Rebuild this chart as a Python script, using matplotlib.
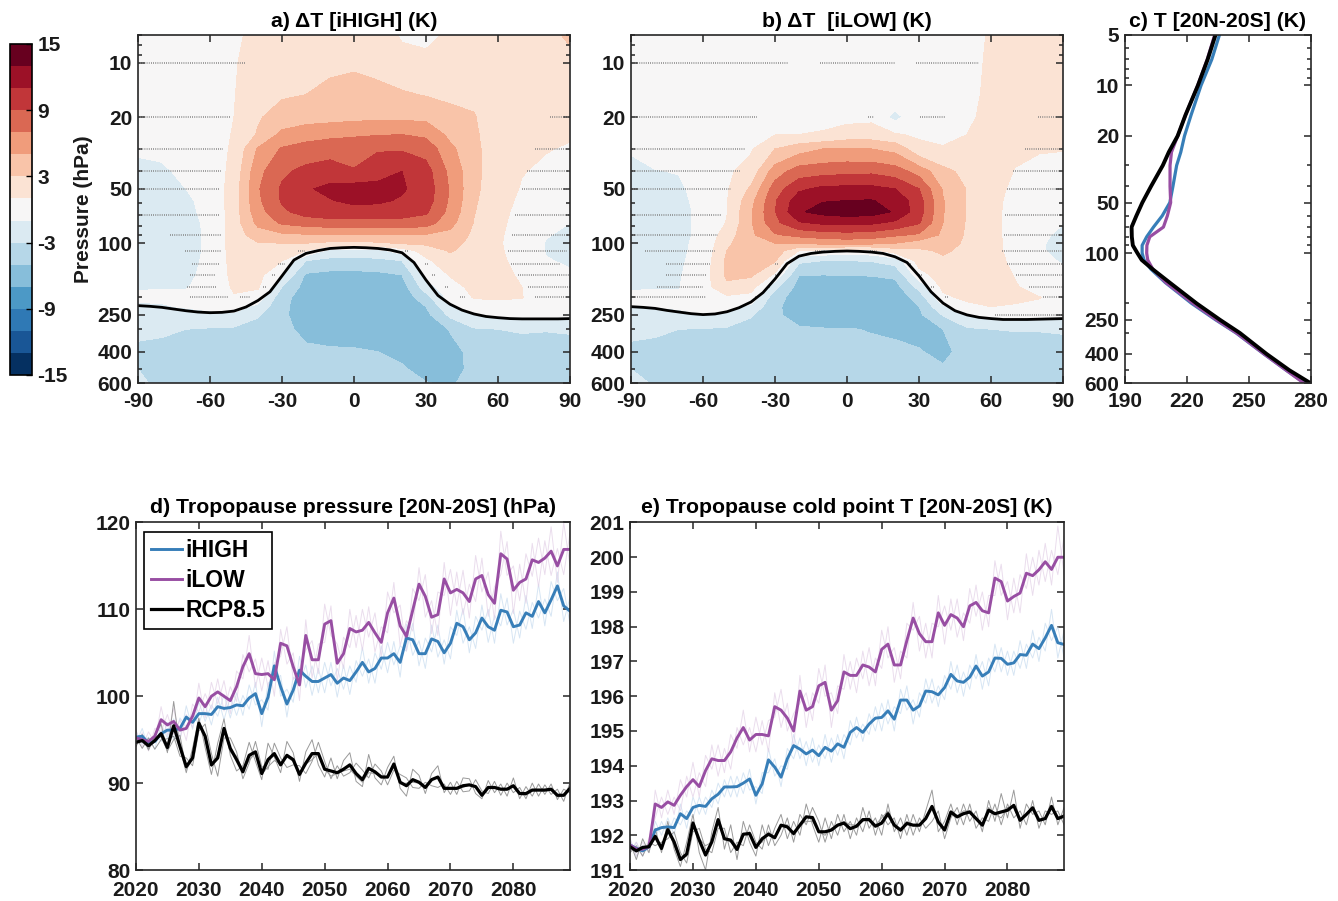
import numpy as np
import matplotlib
matplotlib.use("Agg")
import matplotlib.pyplot as plt
from matplotlib.colors import ListedColormap
from matplotlib.ticker import LogLocator, NullFormatter

plt.rcParams['font.family'] = ['Liberation Sans', 'DejaVu Sans']
plt.rcParams['font.weight'] = 'bold'
plt.rcParams['axes.titleweight'] = 'bold'
plt.rcParams['axes.labelweight'] = 'bold'
plt.rcParams['axes.unicode_minus'] = False

# ---------------- zonal mean temperature change (panels a, b) ----------------
LAT = np.arange(-90, 91, 10)
P_LEV = [7, 10, 15, 20, 25, 30, 40, 50, 58, 67, 77, 90, 100, 110, 125, 150,
         175, 200, 225, 250, 300, 400, 500, 600]

# one profile per latitude (-90 ... 90), values at P_LEV
dT_ihigh_cols = [
    [0, 0, 0, -0.3, -0.6, -0.85, -1.3, -1.5, -1.6, -1.6, -1.6, -1.6, -1.5, -1.5, -1.4, -1.3, -1.1, -0.8, -1.2, -1.8, -2.6, -3.4, -3.0, -2.5],
    [0, 0, 0, -0.2, -0.5, -0.75, -1.2, -1.4, -1.5, -1.5, -1.5, -1.5, -1.4, -1.4, -1.3, -1.2, -1.05, -0.8, -1.1, -1.8, -2.7, -3.6, -3.8, -3.6],
    [0, 0, 0, 0, -0.1, -0.3, -0.7, -1.0, -1.2, -1.25, -1.3, -1.3, -1.3, -1.3, -1.2, -1.15, -1.05, -0.8, -0.9, -1.5, -3.0, -3.8, -3.9, -3.7],
    [0.2, 0.2, 0.2, 0.1, 0, 0, -0.2, -0.4, -0.6, -0.7, -0.8, -0.85, -0.85, -0.85, -0.85, -0.8, -0.7, -0.6, -0.7, -1.3, -3.2, -4.0, -4.0, -3.8],
    [0.6, 0.8, 0.9, 1.0, 1.15, 1.3, 1.6, 1.9, 2.0, 2.0, 2.0, 2.0, 2.0, 1.9, 1.8, 1.6, 1.3, 0.8, 0.0, -1.5, -3.3, -4.2, -4.2, -4.0],
    [1.6, 2.0, 2.4, 2.8, 3.2, 5.2, 6.4, 6.8, 6.6, 6.2, 5.5, 4.0, 2.9, 2.5, 2.0, 1.6, 1.2, 0.2, -1.6, -2.8, -3.8, -4.3, -4.4, -4.3],
    [2.0, 2.3, 2.8, 3.8, 5.5, 7.2, 8.6, 9.3, 9.2, 8.6, 7.3, 4.6, 3.0, 2.0, 1.05, -0.9, -3.0, -4.4, -4.6, -4.7, -4.6, -4.3, -4.2, -4.2],
    [2.2, 2.6, 3.0, 4.2, 6.2, 7.8, 9.6, 10.8, 10.7, 9.8, 7.9, 4.8, 3.0, 1.0, -3.0, -5.3, -5.8, -5.9, -5.9, -5.8, -5.4, -4.7, -4.4, -4.3],
    [2.4, 2.7, 3.4, 4.3, 6.6, 8.0, 10.2, 11.4, 10.9, 10.2, 8.2, 4.8, 2.6, -1.6, -3.6, -5.6, -6.1, -6.3, -6.3, -6.1, -5.6, -4.8, -4.5, -4.4],
    [2.5, 2.8, 3.6, 4.5, 6.8, 8.0, 9.2, 12.0, 11.4, 10.3, 8.2, 4.9, 2.6, -1.8, -3.7, -5.6, -6.2, -6.4, -6.4, -6.3, -5.8, -4.8, -4.5, -4.4],
    [2.3, 2.7, 3.3, 4.6, 6.9, 8.8, 10.3, 11.6, 11.3, 10.2, 8.2, 4.8, 2.7, -1.5, -3.5, -5.5, -6.2, -6.5, -6.6, -6.5, -6.2, -5.0, -4.6, -4.5],
    [0.7, 2.0, 3.2, 4.6, 7.0, 8.8, 11.0, 11.2, 10.8, 10.0, 8.2, 5.0, 3.2, 0.0, -3.0, -5.0, -5.9, -6.3, -6.5, -6.6, -6.4, -5.4, -4.8, -4.6],
    [0.5, 1.6, 2.9, 4.5, 6.6, 8.3, 9.8, 10.2, 10.0, 9.3, 8.0, 4.8, 3.4, 1.8, 0.6, -0.4, -2.0, -3.8, -5.0, -5.6, -6.2, -6.2, -5.6, -4.9],
    [1.3, 1.9, 2.7, 3.5, 4.5, 5.5, 6.5, 6.8, 6.7, 6.4, 5.7, 4.4, 3.8, 3.2, 2.3, 1.1, 0.4, -0.3, -1.3, -2.6, -4.9, -5.6, -5.6, -5.2],
    [2.0, 2.2, 2.7, 3.1, 3.3, 3.5, 3.6, 3.5, 3.3, 3.1, 2.9, 2.6, 2.3, 2.1, 1.9, 1.6, 1.4, 1.1, 0.2, -1.1, -3.2, -4.5, -4.6, -4.4],
    [2.0, 2.0, 2.0, 2.0, 1.9, 1.8, 1.7, 1.6, 1.5, 1.4, 1.3, 1.2, 1.15, 1.2, 1.3, 1.4, 1.4, 1.2, 0.4, -0.6, -3.0, -4.2, -4.3, -4.2],
    [2.0, 2.0, 1.9, 1.7, 1.5, 1.3, 1.05, 0.9, 0.75, 0.6, 0.5, 0.4, 0.35, 0.4, 0.5, 0.8, 1.0, 1.05, 0.5, -0.4, -2.8, -4.0, -4.1, -4.0],
    [2.1, 2.0, 1.7, 1.4, 1.2, 1.05, 0.8, 0.5, 0.25, -0.1, -0.5, -0.9, -1.1, -1.1, -0.9, -0.6, -0.2, 0.0, 0.0, -0.7, -2.9, -3.9, -4.0, -3.9],
    [3.5, 2.1, 1.6, 1.3, 1.1, 0.9, 0.5, 0.1, -0.2, -0.6, -1.0, -1.3, -1.5, -1.5, -1.2, -0.8, -0.4, -0.1, 0.0, -0.6, -2.8, -3.8, -3.9, -3.8],
]

dT_ilow_cols = [
    [0, 0, 0, -0.3, -0.6, -0.9, -1.3, -1.5, -1.6, -1.6, -1.6, -1.6, -1.5, -1.5, -1.4, -1.3, -1.1, -0.8, -1.0, -1.7, -2.6, -3.4, -3.0, -2.0],
    [0, 0, 0, -0.2, -0.4, -0.6, -1.05, -1.3, -1.4, -1.45, -1.45, -1.45, -1.4, -1.4, -1.3, -1.2, -1.05, -0.8, -0.95, -1.7, -2.7, -3.6, -3.7, -3.3],
    [0, 0, 0, 0, -0.2, -0.5, -0.95, -1.2, -1.3, -1.35, -1.35, -1.35, -1.3, -1.3, -1.25, -1.15, -1.05, -0.8, -0.85, -1.3, -3.0, -3.8, -3.9, -3.7],
    [0.1, 0.1, 0.1, 0, 0, -0.1, -0.3, -0.5, -0.6, -0.7, -0.7, -0.7, -0.6, -0.5, -0.3, 0.0, 0.1, -0.2, -0.5, -1.05, -3.1, -4.0, -4.0, -3.8],
    [0.1, 0.1, 0.2, 0.3, 0.4, 0.5, 0.65, 0.8, 0.9, 0.95, 1.1, 2.0, 2.6, 3.0, 3.4, 3.4, 2.5, 0.6, -0.3, -1.4, -3.3, -4.2, -4.2, -4.0],
    [0.1, 0.1, 0.2, 0.4, 0.6, 0.8, 1.8, 3.3, 4.3, 4.8, 4.8, 4.6, 4.4, 4.2, 3.9, 3.3, 1.8, 0.3, -1.5, -2.8, -3.9, -4.4, -4.4, -4.3],
    [0.2, 0.3, 0.5, 0.7, 0.95, 3.0, 6.0, 8.0, 8.8, 8.9, 8.5, 6.8, 5.0, 4.2, 3.2, 0.6, -2.5, -4.2, -4.6, -4.7, -4.6, -4.3, -4.2, -4.2],
    [0.2, 0.3, 0.5, 0.7, 1.0, 4.2, 8.0, 10.6, 12.2, 12.8, 10.8, 7.5, 5.3, 1.0, -2.6, -4.95, -5.8, -6.0, -6.0, -5.7, -4.8, -4.3, -4.2, -4.1],
    [0.3, 0.4, 0.6, 0.7, 1.1, 5.0, 8.3, 11.5, 12.9, 13.6, 11.4, 8.0, 5.6, 0.5, -3.0, -5.0, -6.0, -6.3, -6.3, -6.0, -4.9, -4.4, -4.2, -4.1],
    [0.3, 0.4, 0.5, 0.5, 1.8, 5.2, 8.5, 11.6, 13.0, 14.0, 11.5, 8.2, 5.8, 0.2, -3.0, -4.95, -6.1, -6.4, -6.4, -6.1, -4.9, -4.4, -4.2, -4.1],
    [0.3, 0.4, 0.55, 0.6, 1.9, 5.0, 8.6, 11.6, 13.1, 13.8, 11.4, 8.0, 5.6, 0.4, -2.9, -4.9, -6.0, -6.3, -6.4, -6.2, -5.1, -4.5, -4.3, -4.2],
    [0.3, 0.3, 0.2, -1.6, 1.2, 4.4, 8.0, 11.0, 12.4, 12.8, 10.6, 7.3, 5.0, 2.0, -2.2, -4.6, -5.8, -6.2, -6.4, -6.4, -5.3, -4.6, -4.3, -4.2],
    [0.3, 0.3, 0.3, 0.4, 0.7, 1.6, 6.2, 9.0, 9.8, 9.9, 9.2, 6.7, 4.0, 2.6, 1.8, 0.2, -2.4, -4.2, -5.0, -5.4, -5.4, -4.9, -4.3, -4.2],
    [0.3, 0.3, 0.3, 0.4, 0.7, 1.1, 3.6, 4.8, 5.1, 5.1, 5.0, 4.6, 4.0, 3.3, 2.6, 2.0, 1.4, 0.6, -1.4, -2.9, -5.0, -5.4, -4.8, -4.4],
    [0.3, 0.4, 0.5, 0.7, 1.0, 1.5, 2.4, 2.9, 2.9, 2.9, 2.8, 2.7, 2.6, 2.5, 2.4, 2.1, 1.8, 1.4, 0.5, -1.0, -3.3, -4.4, -4.4, -4.2],
    [1.2, 1.3, 1.4, 1.5, 1.6, 1.6, 1.6, 1.5, 1.4, 1.4, 1.4, 1.4, 1.4, 1.4, 1.4, 1.5, 1.6, 1.5, 1.0, -0.3, -3.0, -4.2, -4.3, -4.2],
    [1.5, 1.5, 1.5, 1.4, 1.3, 1.2, 0.95, 0.7, 0.6, 0.5, 0.5, 0.5, 0.55, 0.6, 0.75, 0.95, 1.1, 1.2, 0.9, -0.2, -2.9, -4.0, -4.1, -4.0],
    [1.6, 1.5, 1.4, 1.3, 1.2, 1.05, 0.8, 0.5, 0.3, 0.0, -0.4, -0.7, -0.8, -0.8, -0.6, -0.2, 0.5, 1.05, 0.7, -0.3, -2.9, -3.9, -4.0, -3.9],
    [1.6, 1.5, 1.4, 1.25, 1.15, 1.03, 0.7, 0.2, -0.2, -0.6, -0.95, -1.3, -1.5, -1.5, -1.15, -0.6, 0.0, 0.6, 0.4, -0.4, -2.8, -3.8, -3.9, -3.8],
]

# climatological tropopause (black line), every 5 degrees
TP_LAT = np.arange(-90, 91, 5)
tp_ihigh = [222, 224, 227, 232, 237, 241, 243, 242, 238, 226, 208, 186, 152, 124, 114, 110, 107, 106, 105.5,
            106, 107, 109, 113, 128, 160, 195, 218, 235, 247, 255, 259, 262, 263, 263, 263, 263, 262]
tp_ilow = [225, 227, 230, 236, 241, 246, 249, 247, 240, 228, 212, 188, 158, 130, 118, 114, 112, 111, 110.5,
           111, 112, 114, 119, 128, 152, 186, 215, 237, 250, 258, 262, 265, 265, 265, 264, 263, 262]

# non-significant stippling rows: (pressure, lat start, lat end)
stip_ihigh = [
    (10, -90, -45),
    (20, -90, -51.8), (20, 81.7, 90),
    (30, -90, -54.6), (30, 75.4, 90),
    (40, -90, -55.5), (40, 72, 90),
    (50, -90, -56.4), (50, 69.9, 90),
    (70, -90, -56.4), (70, 67, 90),
    (90, -76.8, -55.5), (90, 65.7, 90),
    (110, -70.5, -55.5), (110, -23.3, -20.5), (110, 21.2, 22.6), (110, 64.3, 88.6),
    (130, -67.5, -56.4), (130, -31.6, -28.8), (130, 29.5, 31), (130, 65.4, 85.8),
    (150, -68.5, -57.3), (150, -34, -32.6), (150, 32.5, 33.9), (150, 68.2, 90),
    (175, -69.4, -57.3), (175, -37.9, -36.5), (175, 37.9, 39.3), (175, 72.6, 90),
    (200, -68.5, -52.5), (200, -47.6, -43.4), (200, 44.1, 46.2), (200, 75.4, 90),
]
stip_ilow = [
    (10, -88.3, -24.4), (10, -11.2, 20), (10, 28.6, 55),
    (20, -88.3, -37.6), (20, 8.6, 11.4), (20, 30.6, 40.8), (20, 79.7, 88.8),
    (30, -90, -42.5), (30, 74.2, 90),
    (40, -90, -44.6), (40, 69.3, 90),
    (50, -90, -48.3), (50, 66.5, 90),
    (70, -90, -51.9), (70, 65.8, 90),
    (90, -90, -53.9), (90, 65.2, 90),
    (110, -84.2, -55), (110, -13.3, -9.2), (110, 9.6, 12.4), (110, 64.7, 90),
    (130, -75.6, -57.1), (130, -30, -28.6), (130, 25.6, 27), (130, 66.5, 90),
    (150, -75.6, -58.9), (150, -30, -28.6), (150, 30.1, 31.5), (150, 70.3, 90),
    (175, -79.3, -59.9), (175, -33.2, -31.8), (175, 34.9, 36.3), (175, 75.8, 90),
    (200, -88.3, -58.9), (200, -38.3, -36.9), (200, 40.8, 42.2), (200, 81.8, 90),
    (250, 61.7, 90),
]

# ---------------- tropical temperature profiles (panel c) ----------------
c_pres = [5, 7, 10, 15, 20, 25, 30, 40, 50, 60, 70, 80, 90, 100, 110, 125, 150, 200, 250, 300, 400, 500, 600]
c_rcp = [233.8, 230.0, 225.3, 219.3, 215.5, 211.2, 208.3, 202.6, 198.4, 195.5, 193.2, 193.3, 193.8, 196.0,
         198.1, 203.4, 211.6, 224.7, 235.9, 245.6, 258.5, 269.5, 280.0]
c_ihigh = [235.7, 232.0, 226.8, 222.0, 218.8, 217.0, 215.0, 213.2, 211.7, 208.0, 203.8, 200.5, 198.3, 198.3,
           199.2, 202.6, 209.5, 222.3, 233.8, 243.8, 257.2, 268.0, 277.2]
c_ilow = [233.4, 229.8, 225.2, 219.3, 215.5, 212.5, 211.8, 211.8, 212.1, 210.5, 208.6, 202.0, 200.6, 200.5,
          201.0, 203.5, 209.8, 223.0, 234.2, 244.0, 257.3, 268.0, 276.8]

# ---------------- time series (panels d, e) ----------------
years = np.arange(2020, 2090)

d_ihigh = [95.3, 95.4, 94.6, 94.8, 95.7, 96.1, 96.1, 96.3, 97.6, 97.0, 98.0, 98.0, 97.9, 98.8, 98.6, 98.7, 99.0, 98.9, 99.8, 100.3,
           98.0, 99.9, 103.5, 101.1, 99.1, 100.7, 103.0, 102.3, 101.7, 101.7, 102.1, 102.5, 101.5, 102.1, 101.8, 102.8, 103.9, 102.8, 103.2, 104.4,
           104.4, 104.9, 103.9, 106.7, 106.5, 104.9, 104.9, 106.6, 106.3, 105.0, 106.1, 108.4, 108.0, 106.5, 107.3, 109.0, 108.0, 107.6, 109.9, 109.7,
           108.0, 108.2, 109.6, 109.2, 110.9, 109.6, 111.1, 112.7, 110.4, 109.8]
d_ilow = [95.2, 95.0, 94.8, 95.4, 97.3, 96.7, 97.1, 96.1, 96.3, 97.7, 99.8, 98.8, 100.0, 100.5, 100.0, 99.5, 101.1, 103.4, 104.9, 102.6,
          102.5, 102.6, 101.9, 106.1, 105.8, 103.4, 101.3, 107.0, 104.2, 104.2, 108.3, 108.7, 103.8, 104.9, 107.8, 107.4, 107.6, 108.5, 107.3, 106.2,
          109.6, 111.3, 108.1, 106.9, 109.9, 112.9, 111.5, 109.1, 109.4, 113.5, 111.9, 112.3, 111.9, 110.9, 113.5, 113.9, 111.7, 110.7, 116.4, 115.8,
          112.2, 113.1, 113.5, 115.7, 115.4, 115.9, 116.7, 115.0, 116.9, 116.9]
d_rcp = [94.7, 94.9, 94.3, 94.9, 95.7, 94.1, 96.6, 94.2, 91.9, 92.9, 96.9, 95.4, 92.1, 92.9, 96.3, 94.0, 92.7, 91.3, 93.2, 93.6,
         91.1, 92.7, 93.4, 92.1, 93.2, 92.7, 91.0, 92.3, 93.4, 93.4, 91.6, 91.4, 91.2, 91.6, 92.1, 91.1, 90.4, 91.7, 91.3, 90.7,
         90.7, 92.2, 90.1, 89.7, 90.4, 90.1, 89.5, 90.4, 90.7, 89.4, 89.4, 89.4, 89.7, 89.8, 89.6, 88.6, 89.5, 89.5, 89.3, 89.3,
         89.7, 88.8, 88.8, 89.2, 89.2, 89.2, 89.3, 88.6, 88.6, 89.4]

d_ihigh_m1 = [96.0, 94.5, 95.3, 93.9, 96.8, 95.2, 97.4, 95.1, 98.9, 96.2, 99.4, 97.1, 99.0, 97.7, 100.2, 97.5, 100.4, 97.8, 101.3, 99.0,
              99.6, 98.4, 105.2, 100.0, 100.8, 99.3, 104.6, 101.0, 103.5, 100.4, 103.9, 101.2, 103.2, 100.8, 103.5, 101.6, 105.6, 101.5, 105.0, 103.1,
              106.2, 103.6, 105.8, 105.2, 108.4, 103.5, 106.7, 105.1, 108.2, 103.7, 108.0, 107.0, 110.1, 105.0, 109.2, 107.6, 110.0, 106.1, 111.8, 108.2,
              110.0, 106.7, 111.6, 107.8, 112.9, 108.1, 113.2, 111.0, 112.4, 108.3]
d_ihigh_m2 = [94.6, 96.3, 93.9, 95.7, 94.8, 97.0, 95.0, 97.5, 96.4, 97.9, 96.8, 99.0, 96.7, 99.9, 97.3, 99.9, 97.8, 100.1, 98.5, 101.6,
              96.5, 101.5, 101.9, 102.4, 97.6, 102.2, 101.5, 103.6, 100.1, 103.2, 100.4, 103.9, 99.9, 103.6, 100.2, 104.1, 102.3, 104.3, 101.5, 105.8,
              102.7, 106.3, 102.2, 108.3, 104.7, 106.4, 103.2, 108.2, 104.5, 106.5, 104.3, 109.9, 106.1, 108.0, 105.5, 110.5, 106.2, 109.3, 108.1, 111.3,
              106.1, 109.8, 107.7, 110.8, 109.0, 111.2, 109.2, 114.3, 108.6, 111.4]
d_ilow_m1 = [96.1, 94.2, 95.9, 94.6, 98.8, 95.5, 98.6, 95.0, 97.9, 96.4, 101.5, 97.5, 101.6, 99.1, 101.8, 98.0, 102.9, 102.0, 107.0, 101.0,
             104.4, 101.1, 103.8, 104.6, 108.0, 101.9, 103.2, 105.3, 106.4, 102.6, 110.6, 107.0, 106.0, 103.2, 110.0, 105.6, 110.0, 106.8, 109.6, 104.5,
             112.0, 109.6, 110.5, 105.2, 112.4, 111.0, 114.0, 107.2, 112.0, 111.6, 114.6, 110.4, 114.5, 109.0, 116.2, 112.0, 114.3, 108.8, 119.0, 113.9,
             115.0, 111.0, 116.4, 113.8, 118.2, 114.0, 119.5, 113.1, 120.0, 115.0]
d_ilow_m2 = [94.3, 95.8, 93.7, 96.3, 95.9, 97.9, 95.6, 97.3, 94.9, 99.1, 98.2, 100.3, 98.5, 102.0, 98.3, 101.1, 99.4, 104.8, 102.8, 104.3,
             100.6, 104.1, 100.0, 107.7, 103.7, 105.0, 99.5, 108.8, 102.1, 106.0, 106.2, 110.4, 101.7, 106.8, 105.6, 109.3, 105.3, 110.3, 105.1, 108.0,
             107.3, 113.1, 105.8, 108.7, 107.5, 114.8, 109.1, 111.0, 107.0, 115.4, 109.3, 114.3, 109.4, 112.9, 110.9, 115.9, 109.2, 112.6, 114.0, 117.8,
             109.5, 115.2, 110.7, 117.6, 112.6, 117.9, 113.9, 117.0, 114.0, 118.8]
d_rcp_m1 = [94.2, 95.6, 93.8, 95.5, 96.8, 93.5, 99.4, 94.0, 91.2, 94.0, 97.5, 94.1, 91.0, 94.6, 97.4, 93.2, 91.4, 92.0, 94.7, 92.5,
            90.4, 94.6, 93.0, 91.2, 94.8, 93.5, 90.2, 93.6, 95.0, 92.1, 90.7, 92.9, 90.5, 92.6, 93.5, 90.2, 89.6, 93.3, 90.6, 89.8,
            91.8, 93.1, 89.4, 88.5, 91.6, 90.9, 88.8, 91.1, 92.0, 88.9, 90.1, 88.7, 90.6, 90.5, 88.8, 88.2, 90.3, 88.9, 89.9, 88.5,
            90.6, 88.2, 89.6, 88.5, 89.9, 88.7, 89.9, 88.1, 89.3, 88.9]
d_rcp_m2 = [95.3, 94.0, 95.2, 93.9, 95.0, 95.1, 95.4, 93.1, 92.9, 92.0, 96.0, 96.8, 93.4, 90.8, 95.2, 95.2, 93.6, 90.5, 92.3, 94.8,
            91.9, 91.6, 94.6, 92.9, 91.8, 92.1, 92.0, 91.1, 92.5, 94.7, 92.5, 90.5, 92.0, 90.8, 91.2, 92.3, 91.5, 90.6, 92.2, 91.4,
            89.8, 91.5, 91.0, 90.6, 89.5, 89.4, 90.1, 89.7, 89.5, 89.9, 88.7, 90.2, 89.0, 89.1, 90.4, 89.1, 88.8, 90.2, 88.6, 90.0,
            88.9, 89.5, 88.2, 90.0, 88.5, 89.8, 88.7, 89.3, 87.9, 90.1]
d_rcp_m3 = [94.6, 95.1, 93.9, 95.3, 95.3, 93.7, 95.0, 95.5, 91.6, 92.7, 97.2, 95.3, 91.9, 93.3, 96.3, 93.6, 93.1, 91.4, 92.6, 93.5,
            91.0, 91.9, 92.6, 92.2, 93.0, 92.5, 90.8, 92.2, 92.7, 93.4, 91.6, 90.8, 91.1, 91.4, 91.6, 90.8, 90.1, 91.2, 91.1, 90.9,
            90.6, 92.0, 89.9, 90.0, 90.1, 90.0, 89.6, 90.4, 90.6, 89.4, 89.4, 89.3, 89.5, 89.8, 89.6, 88.5, 89.4, 89.4, 89.4, 89.4,
            89.6, 88.7, 88.6, 89.1, 89.2, 89.1, 89.3, 88.4, 88.6, 89.2]

e_ihigh = [191.72, 191.62, 191.55, 191.67, 192.15, 192.22, 192.24, 192.22, 192.62, 192.48, 192.8, 192.86, 192.83, 193.05, 193.18, 193.39, 193.39, 193.4, 193.5, 193.62,
           193.15, 193.48, 194.17, 193.96, 193.67, 194.2, 194.58, 194.48, 194.34, 194.45, 194.29, 194.53, 194.42, 194.63, 194.53, 194.96, 195.1, 194.96, 195.2, 195.37,
           195.39, 195.58, 195.34, 195.89, 195.89, 195.6, 195.72, 196.15, 196.13, 196.04, 196.25, 196.63, 196.44, 196.4, 196.55, 196.87, 196.58, 196.7, 197.1, 197.09,
           196.92, 196.96, 197.2, 197.18, 197.5, 197.37, 197.68, 198.04, 197.54, 197.49]
e_ilow = [191.72, 191.6, 191.6, 191.67, 192.9, 192.8, 192.96, 192.86, 193.15, 193.4, 193.6, 193.4, 193.86, 194.2, 194.15, 194.15, 194.4, 194.8, 195.1, 194.74,
          194.9, 194.9, 194.86, 195.7, 195.6, 195.37, 195.0, 196.15, 195.6, 195.7, 196.3, 196.4, 195.6, 195.87, 196.7, 196.6, 196.6, 196.9, 196.84, 196.7,
          197.35, 197.5, 196.9, 196.9, 197.6, 198.25, 197.8, 197.57, 197.57, 198.4, 198.04, 198.35, 198.25, 198.0, 198.6, 198.7, 198.46, 198.4, 199.4, 199.3,
          198.74, 198.87, 198.97, 199.54, 199.47, 199.64, 199.87, 199.65, 200.0, 200.0]
e_rcp = [191.67, 191.55, 191.65, 191.67, 191.97, 191.62, 192.16, 191.81, 191.3, 191.46, 192.35, 191.86, 191.43, 191.81, 192.45, 191.9, 191.86, 191.59, 192.03, 192.05,
         191.65, 191.9, 192.03, 191.93, 192.29, 192.24, 192.05, 192.29, 192.53, 192.51, 192.1, 192.1, 192.15, 192.29, 192.35, 192.19, 192.26, 192.45, 192.45, 192.26,
         192.35, 192.62, 192.29, 192.15, 192.34, 192.29, 192.29, 192.48, 192.83, 192.38, 192.15, 192.67, 192.53, 192.62, 192.67, 192.48, 192.29, 192.72, 192.62, 192.67,
         192.72, 192.86, 192.43, 192.6, 192.79, 192.43, 192.48, 192.83, 192.48, 192.55]

e_ihigh_m1 = [191.9, 191.4, 191.7, 191.5, 192.4, 192.0, 192.5, 192.0, 192.9, 192.2, 193.1, 192.6, 193.1, 192.8, 193.5, 193.1, 193.7, 193.1, 193.8, 193.3,
              193.4, 193.2, 194.5, 193.7, 194.0, 193.9, 194.9, 194.2, 194.7, 194.1, 194.6, 194.2, 194.8, 194.3, 194.9, 194.6, 195.4, 194.7, 195.5, 195.0,
              195.8, 195.2, 195.7, 195.5, 196.3, 195.2, 196.1, 195.8, 196.5, 195.7, 196.6, 196.2, 196.9, 196.0, 196.9, 196.5, 197.0, 196.3, 197.5, 196.7,
              197.3, 196.6, 197.6, 196.8, 197.9, 197.0, 198.1, 197.6, 198.0, 197.1]
e_ihigh_m2 = [191.5, 191.8, 191.4, 191.8, 191.9, 192.4, 192.0, 192.5, 192.3, 192.7, 192.5, 193.1, 192.6, 193.3, 192.9, 193.6, 193.1, 193.7, 193.2, 193.9,
              192.9, 193.8, 193.8, 194.2, 193.4, 194.5, 194.2, 194.8, 194.0, 194.8, 194.0, 194.9, 194.1, 194.9, 194.2, 195.3, 194.8, 195.2, 194.9, 195.7,
              195.0, 195.9, 195.0, 196.2, 195.6, 195.9, 195.4, 196.5, 195.8, 196.3, 195.9, 197.0, 196.1, 196.7, 196.2, 197.2, 196.2, 197.1, 196.7, 197.4,
              196.6, 197.3, 196.8, 197.5, 197.1, 197.7, 197.3, 198.5, 197.1, 197.9]
e_ilow_m1 = [191.9, 191.4, 191.8, 191.5, 193.3, 192.5, 193.3, 192.6, 193.6, 193.1, 194.1, 193.1, 194.3, 193.9, 194.6, 193.8, 194.9, 194.5, 195.6, 194.4,
             195.4, 194.6, 195.3, 195.4, 196.2, 195.0, 195.5, 195.8, 196.1, 195.3, 196.8, 196.0, 196.1, 195.5, 197.2, 196.2, 197.1, 196.5, 197.4, 196.3,
             197.9, 197.1, 197.4, 196.5, 198.1, 197.9, 198.3, 197.1, 198.1, 198.0, 198.6, 197.9, 198.8, 197.6, 199.1, 198.3, 199.0, 198.0, 199.9, 198.9,
             199.3, 198.4, 199.5, 199.1, 200.0, 199.2, 200.4, 199.2, 200.9, 199.5]
e_ilow_m2 = [191.5, 191.8, 191.4, 191.9, 192.5, 193.1, 192.6, 193.1, 192.7, 193.7, 193.1, 193.8, 193.4, 194.6, 193.7, 194.5, 193.9, 195.1, 194.6, 195.1,
             194.4, 195.3, 194.4, 196.1, 195.1, 195.8, 194.5, 196.6, 195.1, 196.1, 195.8, 196.9, 195.1, 196.3, 196.2, 197.0, 196.1, 197.3, 196.3, 197.1,
             196.8, 198.0, 196.4, 197.3, 197.1, 198.7, 197.3, 198.1, 197.1, 198.9, 197.5, 198.8, 197.7, 198.4, 198.1, 199.2, 197.9, 198.9, 198.9, 199.8,
             198.2, 199.4, 198.4, 200.1, 198.9, 200.2, 199.3, 200.2, 199.5, 200.6]
e_rcp_m1 = [191.8, 191.3, 191.9, 191.5, 192.2, 191.5, 192.4, 191.6, 191.1, 191.8, 192.6, 191.5, 191.0, 192.1, 192.8, 191.6, 192.3, 191.3, 192.4, 191.8,
            191.4, 192.3, 191.7, 192.2, 192.6, 191.9, 192.4, 192.0, 192.9, 192.3, 191.8, 192.5, 191.9, 192.6, 192.1, 192.4, 192.0, 192.8, 192.2, 192.5,
            192.0, 192.9, 192.1, 192.5, 192.0, 192.6, 192.1, 192.7, 193.3, 192.1, 192.4, 192.9, 192.3, 192.9, 192.4, 192.7, 192.1, 193.0, 192.4, 193.2,
            192.5, 193.3, 192.2, 192.9, 192.6, 192.7, 192.3, 193.1, 192.3, 192.8]
e_rcp_m2 = [191.5, 191.7, 191.4, 191.8, 191.7, 191.8, 191.9, 192.1, 191.5, 191.2, 192.1, 192.2, 191.6, 191.5, 192.2, 192.2, 191.5, 191.8, 191.7, 192.3,
            191.8, 191.6, 192.3, 191.7, 192.0, 192.5, 191.8, 192.6, 192.3, 192.8, 192.4, 191.8, 192.4, 192.0, 192.6, 191.9, 192.5, 192.1, 192.7, 192.0,
            192.6, 192.3, 192.5, 191.9, 192.6, 192.0, 192.5, 192.2, 192.4, 192.7, 191.9, 192.5, 192.8, 192.3, 192.9, 192.2, 192.5, 192.4, 192.9, 192.3,
            192.9, 192.5, 192.7, 192.3, 193.0, 192.2, 192.7, 192.6, 192.7, 192.3]
e_rcp_m3 = [191.7, 191.6, 191.6, 191.7, 192.0, 191.6, 192.2, 191.7, 191.3, 191.4, 192.4, 191.9, 191.7, 191.8, 192.4, 191.9, 191.8, 191.7, 192.0, 192.1,
            191.7, 191.8, 192.1, 191.9, 192.3, 192.3, 192.0, 192.3, 192.4, 192.4, 192.1, 192.0, 192.2, 192.3, 192.4, 192.3, 192.3, 192.4, 192.5, 192.3,
            192.5, 192.7, 192.3, 192.1, 192.4, 192.3, 192.3, 192.5, 192.8, 192.4, 192.2, 192.6, 192.5, 192.7, 192.7, 192.5, 192.3, 192.8, 192.6, 192.5,
            192.8, 192.8, 192.4, 192.6, 192.8, 192.4, 192.5, 192.8, 192.5, 192.6]

C_HIGH = '#377eb8'
C_LOW = '#984ea3'
TXT = '#1a1a1a'
FS = 15
LEVELS = np.arange(-15, 16, 2)
cmap = ListedColormap(plt.get_cmap('RdBu_r')(np.linspace(0, 1, 15)))


def style(ax, xpad=6):
    for s in ax.spines.values():
        s.set_linewidth(1.2)
        s.set_color('#262626')
    ax.tick_params(which='both', direction='in', top=True, right=True,
                   width=1.1, labelsize=FS, colors='#262626', labelcolor=TXT)
    ax.tick_params(which='major', length=5)
    ax.tick_params(which='minor', length=3)
    ax.tick_params(axis='x', pad=xpad)
    ax.tick_params(axis='y', pad=4)


def pressure_axis(ax, top, ticks):
    ax.set_yscale('log')
    ax.set_ylim(600, top)
    ax.set_yticks(ticks)
    ax.set_yticklabels([str(t) for t in ticks])
    ax.yaxis.set_minor_locator(LogLocator(base=10, subs=np.arange(2, 10), numticks=20))
    ax.yaxis.set_minor_formatter(NullFormatter())


def draw_dT(ax, cols, tp, stip, title):
    field = np.array(cols).T
    cf = ax.contourf(LAT, P_LEV, field, levels=LEVELS, cmap=cmap, vmin=-15, vmax=15)
    for p, a, b in stip:
        ax.hlines(p, a, b, colors='#7d7d7d', linestyles=(0, (0.5, 0.8)), linewidth=1.2)
    ax.plot(TP_LAT, tp, color='k', lw=2.0)
    pressure_axis(ax, 7, [10, 20, 50, 100, 250, 400, 600])
    ax.set_xlim(-90, 90)
    ax.set_xticks(np.arange(-90, 91, 30))
    ax.set_title(title, fontsize=15.3, pad=6, color='k')
    style(ax)
    return cf


fig = plt.figure(figsize=(13.38, 9.01), dpi=100)

ax_a = fig.add_axes([0.1031, 0.5744, 0.3229, 0.3868])
ax_b = fig.add_axes([0.4716, 0.5744, 0.3229, 0.3868])
ax_c = fig.add_axes([0.8408, 0.5744, 0.1390, 0.3868])
cax = fig.add_axes([0.0075, 0.5838, 0.0164, 0.3674])
ax_d = fig.add_axes([0.1016, 0.0344, 0.3244, 0.3857])
ax_e = fig.add_axes([0.4709, 0.0344, 0.3244, 0.3857])

cf = draw_dT(ax_a, dT_ihigh_cols, tp_ihigh, stip_ihigh, 'a) \u0394T [iHIGH] (K)')
draw_dT(ax_b, dT_ilow_cols, tp_ilow, stip_ilow, 'b) \u0394T  [iLOW] (K)')
ax_a.set_ylabel('Pressure (hPa)', fontsize=15, color=TXT, labelpad=3)

cb = fig.colorbar(cf, cax=cax, ticks=[-15, -9, -3, 3, 9, 15])
cb.ax.tick_params(direction='in', labelsize=15, length=4, width=1, labelcolor=TXT, pad=4)
cb.outline.set_linewidth(1.2)

# panel c
ax_c.plot(c_ihigh, c_pres, color=C_HIGH, lw=2.3)
ax_c.plot(c_ilow, c_pres, color=C_LOW, lw=2.3)
ax_c.plot(c_rcp, c_pres, color='k', lw=2.8)
pressure_axis(ax_c, 5, [5, 10, 20, 50, 100, 250, 400, 600])
ax_c.set_xlim(190, 280)
ax_c.set_xticks([190, 220, 250, 280])
ax_c.set_title('c) T [20N-20S] (K)', fontsize=15.3, pad=6, color='k')
style(ax_c)

# panel d
for m in (d_ihigh_m1, d_ihigh_m2):
    ax_d.plot(years, m, color='#c6dbef', lw=0.7, alpha=0.7)
for m in (d_ilow_m1, d_ilow_m2):
    ax_d.plot(years, m, color='#e2cfe6', lw=0.7, alpha=0.7)
for m in (d_rcp_m1, d_rcp_m2, d_rcp_m3):
    ax_d.plot(years, m, color='#9a9a9a', lw=0.7)
ax_d.plot(years, d_ihigh, color=C_HIGH, lw=2.1, label='iHIGH')
ax_d.plot(years, d_ilow, color=C_LOW, lw=2.1, label='iLOW')
ax_d.plot(years, d_rcp, color='k', lw=2.3, label='RCP8.5')
ax_d.set_xlim(2020, 2089)
ax_d.set_ylim(80, 120)
ax_d.set_xticks(np.arange(2020, 2081, 10))
ax_d.set_yticks(np.arange(80, 121, 10))
ax_d.set_title('d) Tropopause pressure [20N-20S] (hPa)', fontsize=15.3, pad=7, color='k')
style(ax_d, xpad=8)
leg = ax_d.legend(loc='upper left', bbox_to_anchor=(0.018, 0.972), fontsize=16.5,
                  handlelength=1.35, handletextpad=0.15, borderpad=0.3, labelspacing=0.3,
                  fancybox=False, framealpha=1, borderaxespad=0)
leg.get_frame().set_edgecolor('k')
leg.get_frame().set_linewidth(1.2)

# panel e
for m in (e_ihigh_m1, e_ihigh_m2):
    ax_e.plot(years, m, color='#c6dbef', lw=0.7, alpha=0.7)
for m in (e_ilow_m1, e_ilow_m2):
    ax_e.plot(years, m, color='#e2cfe6', lw=0.7, alpha=0.7)
for m in (e_rcp_m1, e_rcp_m2, e_rcp_m3):
    ax_e.plot(years, m, color='#9a9a9a', lw=0.7)
ax_e.plot(years, e_ihigh, color=C_HIGH, lw=2.1)
ax_e.plot(years, e_ilow, color=C_LOW, lw=2.1)
ax_e.plot(years, e_rcp, color='k', lw=2.3)
ax_e.set_xlim(2020, 2089)
ax_e.set_ylim(191, 201)
ax_e.set_xticks(np.arange(2020, 2081, 10))
ax_e.set_yticks(np.arange(191, 202, 1))
ax_e.set_title('e) Tropopause cold point T [20N-20S] (K)', fontsize=15.3, pad=7, color='k')
style(ax_e, xpad=8)

fig.savefig('out.png', dpi=100, facecolor='white')
